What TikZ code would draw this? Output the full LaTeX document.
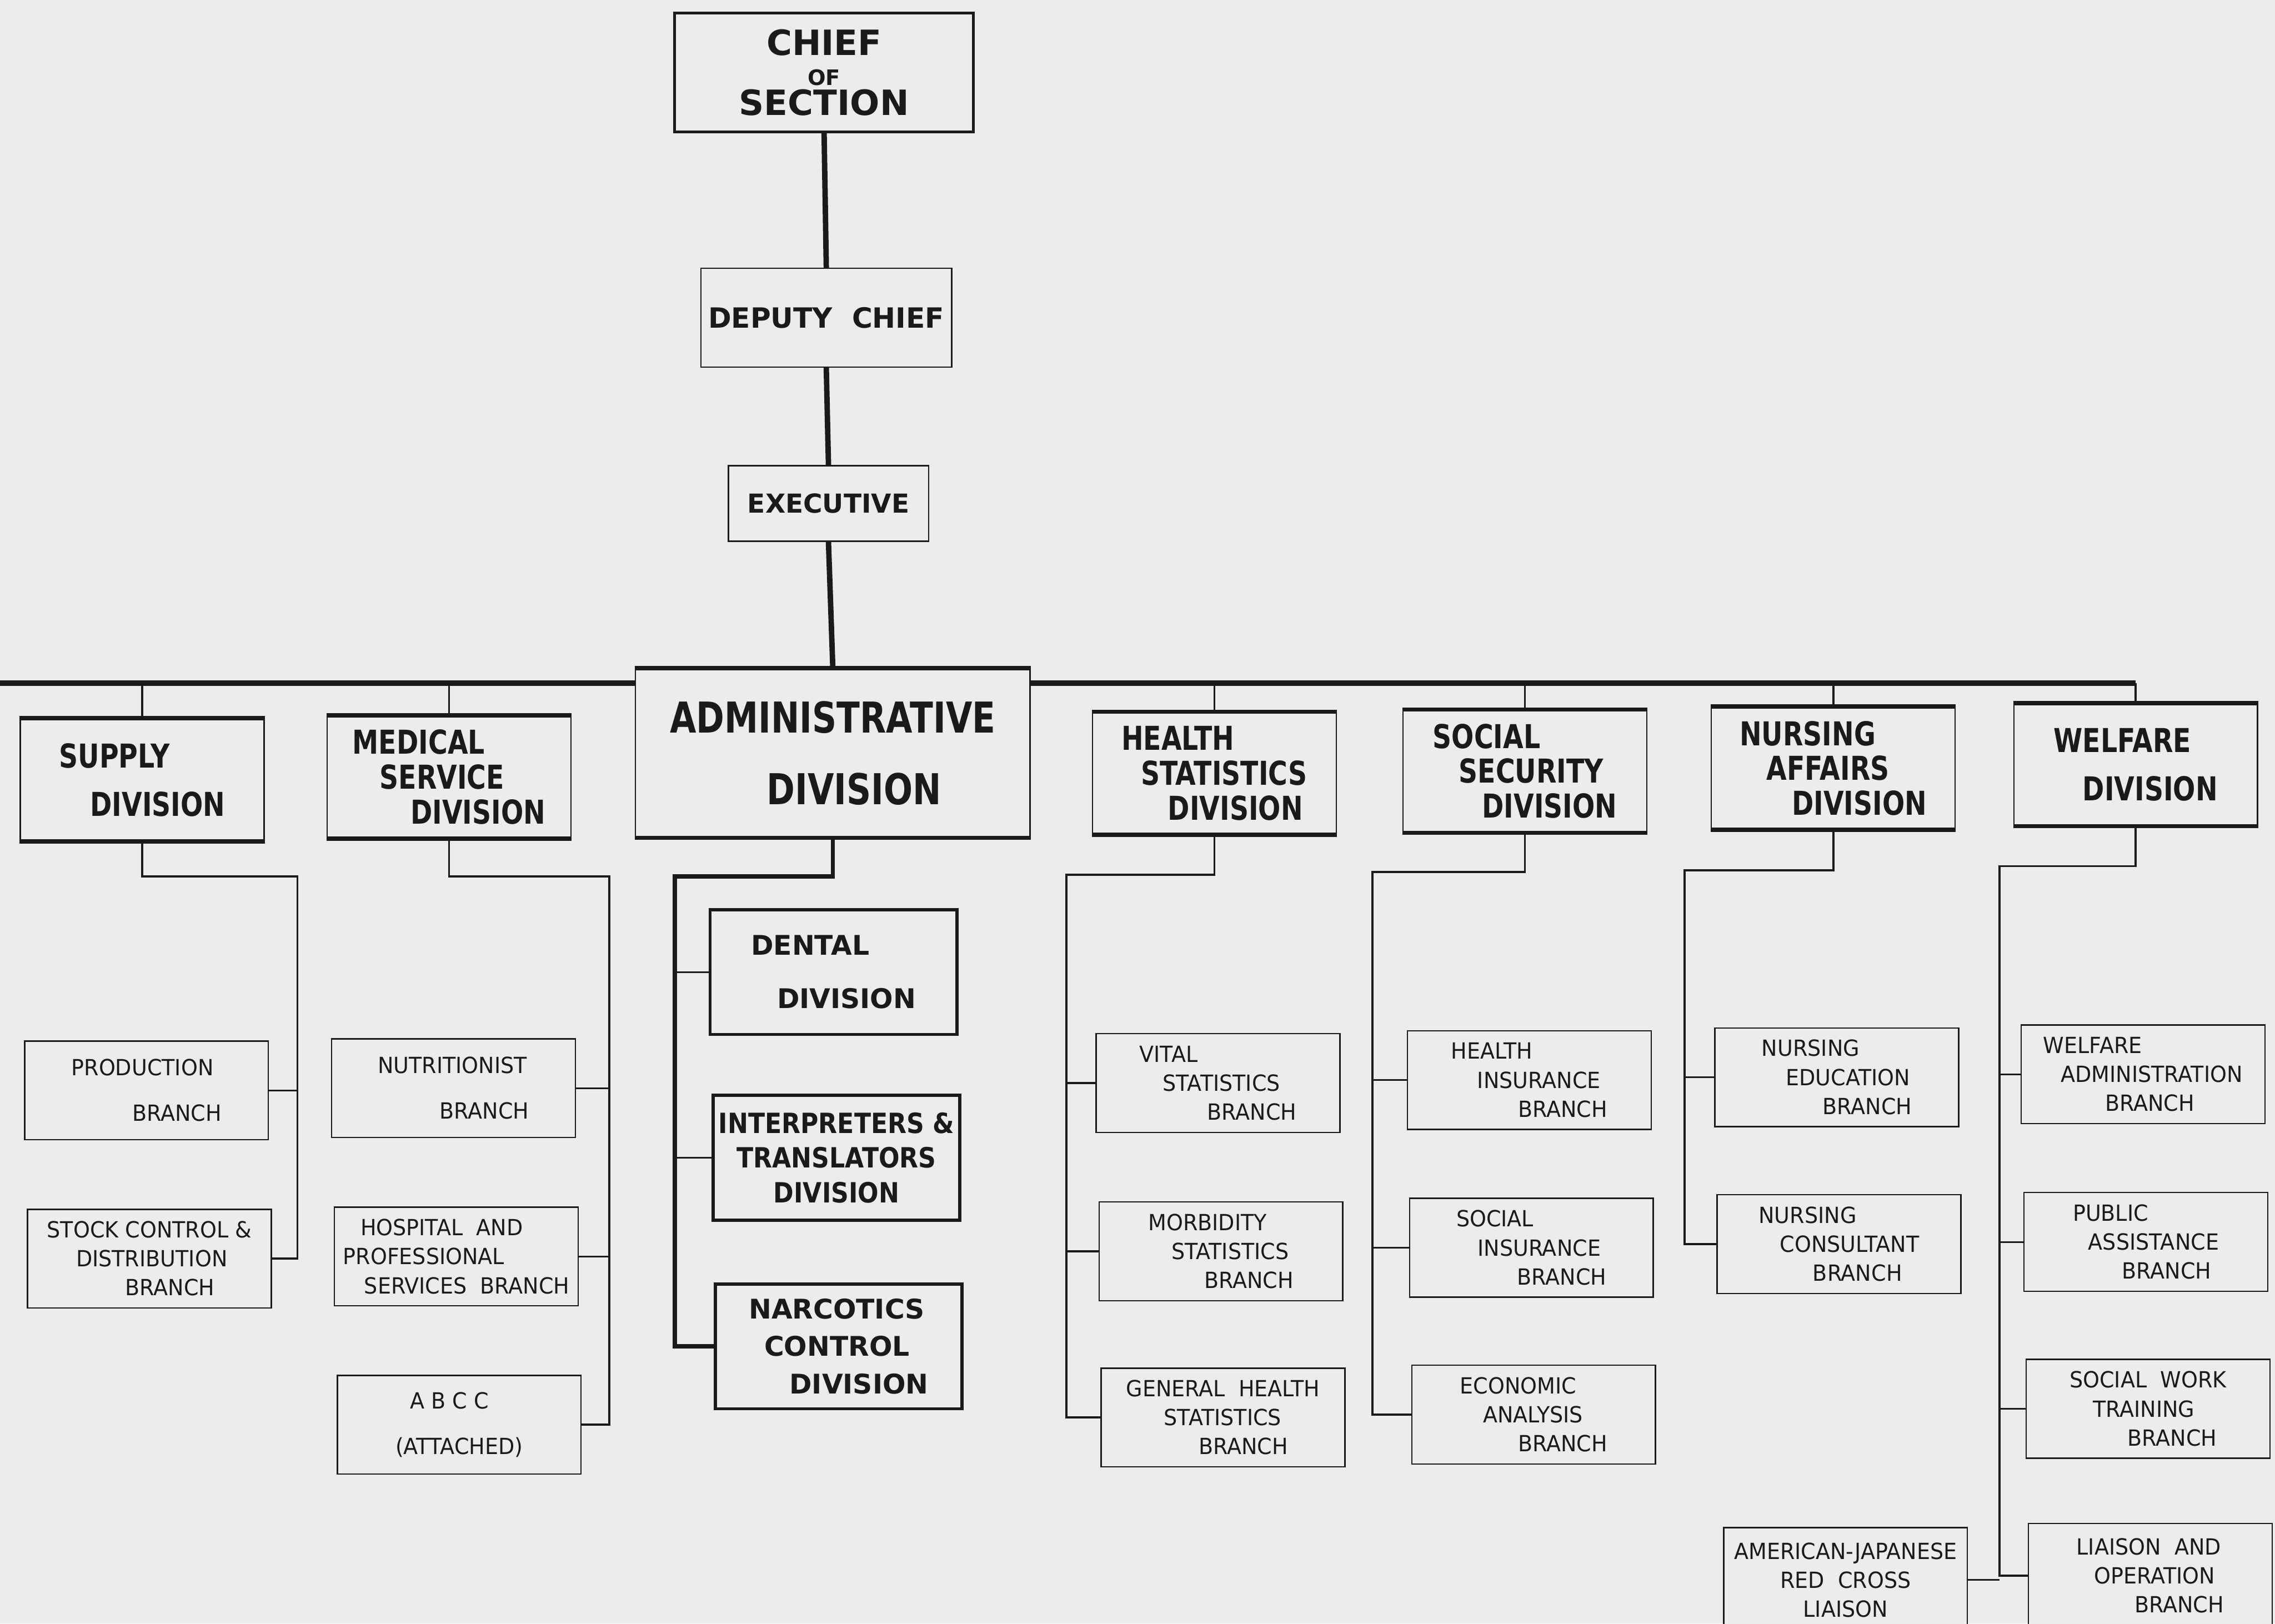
\documentclass[tikz,border=0pt]{standalone}
\usepackage{fontspec}
\setmainfont{DejaVu Sans}
\newfontfamily\divfont[FakeStretch=0.8]{DejaVu Sans}
\newfontfamily\narrowfont[FakeStretch=0.88]{DejaVu Sans}
\newfontfamily\branchfont[FakeStretch=0.95]{DejaVu Sans}
\usepackage{tikz}

\definecolor{paper}{RGB}{236,236,236}
\definecolor{ink}{RGB}{26,26,26}

\tikzset{
  box/.style={draw=ink, fill=paper, text=ink, inner sep=0pt, align=left},
  chiefbox/.style={box, align=center, line width=1.4pt, minimum width=154.5pt, minimum height=61.5pt,
    font=\bfseries\fontsize{18}{20}\selectfont},
  headbox/.style={box, line width=0.7pt, minimum width=129.75pt, minimum height=51pt,
    font=\bfseries\fontsize{14.4}{16}\selectfont},
  execbox/.style={box, line width=0.7pt, minimum width=103.5pt, minimum height=39pt,
    font=\bfseries\fontsize{13.5}{15}\selectfont},
  divbox/.style={box, line width=0.7pt, minimum width=126pt, minimum height=63pt,
    font=\divfont\bfseries\fontsize{17}{18}\selectfont},
  admbox/.style={box, line width=0.7pt, minimum width=204pt, minimum height=87pt,
    font=\divfont\bfseries\fontsize{22}{24}\selectfont},
  subbox/.style={box, line width=1.6pt, minimum width=127.5pt, minimum height=64.5pt,
    font=\bfseries\fontsize{14}{18}\selectfont},
  branchbox/.style={box, line width=0.7pt, minimum width=126pt, minimum height=51pt,
    font=\branchfont\fontsize{11.5}{15}\selectfont},
  spine/.style={draw=ink, line width=2.8pt},
  divbar/.style={draw=ink, line width=2.2pt},
  stem/.style={draw=ink, line width=1.1pt},
  twig/.style={draw=ink, line width=0.9pt},
  admstem/.style={draw=ink, line width=2.2pt}
}

\begin{document}
\begin{tikzpicture}[x=0.75pt,y=0.75pt,yscale=-1,xscale=1]
\useasboundingbox (0,0) rectangle (1568,1119);
\clip (0,0) rectangle (1568,1119);
\fill[paper] (0,0) rectangle (1568,1119);

%Straight Lines: main bus
\coordinate (busL) at (-10,471);
\coordinate (busR) at (1472,471);
\draw[spine] (busL) -- (busR);

% Text Node: head of section
\node[chiefbox] (chief) at (568,50) {CHIEF\\[-4.5pt]{\fontsize{11}{11}\selectfont OF}\\[-4.5pt]SECTION};
\node[headbox] (dep) at (569.5,219) {DEPUTY\ \ CHIEF};
\node[execbox] (exe) at (571,347) {EXECUTIVE};

% Text Node: divisions
\node[divbox] (sup) at (98,537.5) {SUPPLY\\[7pt]\hspace*{16pt}DIVISION};
\node[divbox] (med) at (309.5,535.5) {MEDICAL\\\hspace*{14pt}SERVICE\\\hspace*{30pt}DIVISION};
\node[admbox] (adm) at (574,519) {ADMINISTRATIVE\\[13pt]\hspace*{50pt}DIVISION};
\node[divbox] (hst) at (837,533) {HEALTH\\\hspace*{10pt}STATISTICS\\\hspace*{24pt}DIVISION};
\node[divbox] (sec) at (1051,531.5) {SOCIAL\\\hspace*{13.5pt}SECURITY\\\hspace*{25.5pt}DIVISION};
\node[divbox] (nur) at (1263.5,529.5) {NURSING\\\hspace*{14pt}AFFAIRS\\\hspace*{27pt}DIVISION};
\node[divbox] (wel) at (1472,527) {WELFARE\\[7pt]\hspace*{15pt}DIVISION};

% Text Node: divisions under administrative
\node[subbox] (den) at (574.5,670) {DENTAL\\[9.5pt]\hspace*{13.5pt}DIVISION};
\node[subbox, align=center, font=\narrowfont\bfseries\fontsize{14.4}{18}\selectfont] (int) at (576.5,798)
  {INTERPRETERS \&\\TRANSLATORS\\DIVISION};
\node[subbox] (nar) at (578,928) {NARCOTICS\\[1.5pt]\hspace*{8pt}CONTROL\\[1.5pt]\hspace*{21pt}DIVISION};

% Text Node: branches
\node[branchbox] (prod) at (101,751.5) {PRODUCTION\\[8.5pt]\hspace*{31.5pt}BRANCH};
\node[branchbox] (stk) at (103,867.5) {STOCK CONTROL \&\\\hspace*{15pt}DISTRIBUTION\\\hspace*{40.5pt}BRANCH};
\node[branchbox] (nut) at (312.5,750) {NUTRITIONIST\\[8.5pt]\hspace*{32pt}BRANCH};
\node[branchbox] (hos) at (314.5,866) {\hspace*{9pt}HOSPITAL\ \ AND\\PROFESSIONAL\\\hspace*{11pt}SERVICES\ \ BRANCH};
\node[branchbox] (abc) at (316.5,982) {\hspace*{7.5pt}A B C C\\[8.5pt](ATTACHED)};
\node[branchbox] (vit) at (839.5,746.5) {VITAL\\\hspace*{12pt}STATISTICS\\\hspace*{35pt}BRANCH};
\node[branchbox] (mor) at (841.5,862.5) {MORBIDITY\\\hspace*{12pt}STATISTICS\\\hspace*{29pt}BRANCH};
\node[branchbox] (gen) at (843,977) {GENERAL\ \ HEALTH\\\hspace*{19.5pt}STATISTICS\\\hspace*{37.5pt}BRANCH};
\node[branchbox] (hin) at (1054,744.5) {HEALTH\\\hspace*{13.5pt}INSURANCE\\\hspace*{34.5pt}BRANCH};
\node[branchbox] (sin) at (1055.5,860) {SOCIAL\\\hspace*{11pt}INSURANCE\\\hspace*{31.5pt}BRANCH};
\node[branchbox] (eco) at (1057,975) {ECONOMIC\\\hspace*{12pt}ANALYSIS\\\hspace*{30pt}BRANCH};
\node[branchbox] (ned) at (1266,742.5) {NURSING\\\hspace*{12.5pt}EDUCATION\\\hspace*{31.5pt}BRANCH};
\node[branchbox] (nco) at (1267.5,857.5) {NURSING\\\hspace*{11pt}CONSULTANT\\\hspace*{28pt}BRANCH};
\node[branchbox] (wad) at (1477,740.5) {WELFARE\\\hspace*{9pt}ADMINISTRATION\\\hspace*{32pt}BRANCH};
\node[branchbox] (pub) at (1479,856) {PUBLIC\\\hspace*{8pt}ASSISTANCE\\\hspace*{25.5pt}BRANCH};
\node[branchbox] (swk) at (1480.5,971) {SOCIAL\ \ WORK\\\hspace*{12pt}TRAINING\\\hspace*{30pt}BRANCH};
\node[branchbox, align=center, minimum height=54pt] (amj) at (1272,1089) {AMERICAN-JAPANESE\\RED\ \ CROSS\\LIAISON};
\node[branchbox, minimum height=54pt] (lia) at (1482,1086) {LIAISON\ \ AND\\\hspace*{9pt}OPERATION\\\hspace*{30pt}BRANCH};

%Straight Lines: heavy top and bottom edges of the divisions
\foreach \n in {sup,med,adm,hst,sec,nur,wel}
  \draw[divbar] (\n.north west) -- (\n.north east) (\n.south west) -- (\n.south east);

%Straight Lines: chain of command
\draw[spine] (chief.south) -- (dep.north);
\draw[spine] (dep.south) -- (exe.north);
\draw[spine] (exe.south) -- (adm.north);
\foreach \n in {sup,med,hst,sec,nur}
  \draw[stem] (\n.north |- busR) -- (\n.north);
\draw[stem] (busR) -- (wel.north);

%Straight Lines: supply
\coordinate (supT) at (205,604);
\draw[stem] (sup.south) |- (supT) |- (stk.east);
\draw[twig] (prod.east) -- (prod.east -| supT);

%Straight Lines: medical service
\coordinate (medT) at (420,604);
\draw[stem] (med.south) |- (medT) |- (abc.east);
\foreach \n in {nut,hos}
  \draw[twig] (\n.east) -- (\n.east -| medT);

%Straight Lines: administrative
\coordinate (admT) at (465,604);
\draw[admstem] (adm.south) |- (admT) |- (nar.west);
\foreach \n in {den,int}
  \draw[twig] (\n.west) -- (\n.west -| admT);

%Straight Lines: health statistics
\coordinate (hstT) at (735,603);
\draw[stem] (hst.south) |- (hstT) |- (gen.west);
\foreach \n in {vit,mor}
  \draw[twig] (\n.west) -- (\n.west -| hstT);

%Straight Lines: social security
\coordinate (secT) at (946,601);
\draw[stem] (sec.south) |- (secT) |- (eco.west);
\foreach \n in {hin,sin}
  \draw[twig] (\n.west) -- (\n.west -| secT);

%Straight Lines: nursing affairs
\coordinate (nurT) at (1161,600);
\draw[stem] (nur.south) |- (nurT) |- (nco.west);
\draw[twig] (ned.west) -- (ned.west -| nurT);

%Straight Lines: welfare
\coordinate (welT) at (1378,597);
\draw[stem] (wel.south) |- (welT) |- (lia.west);
\foreach \n in {wad,pub,swk}
  \draw[twig] (\n.west) -- (\n.west -| welT);
\draw[twig] (amj.east) -- (amj.east -| welT);

\end{tikzpicture}
\end{document}
